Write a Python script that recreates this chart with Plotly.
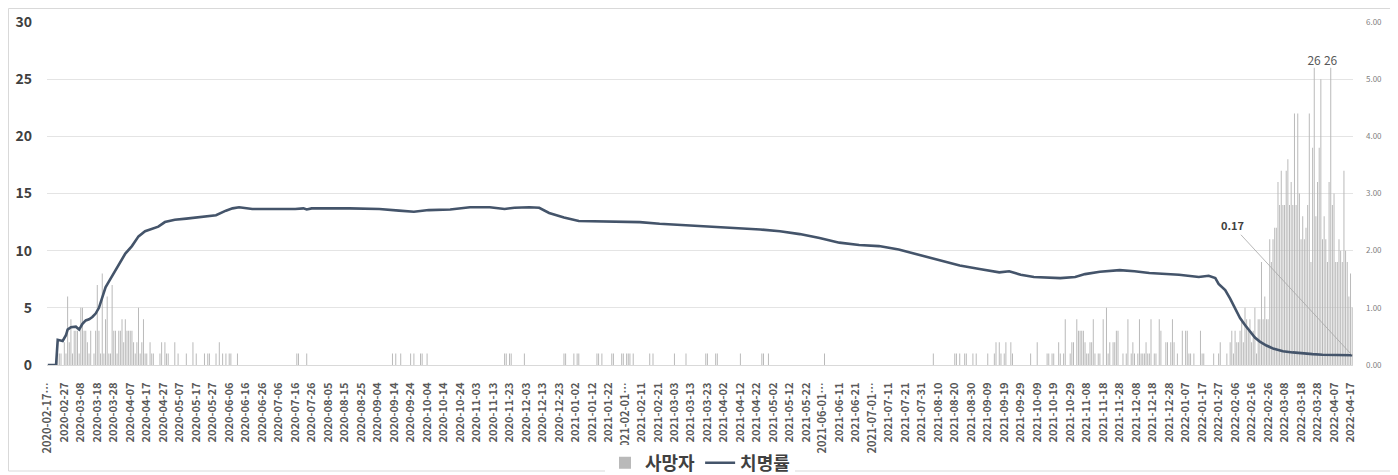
import pandas as pd
import plotly.graph_objects as go

# ---------------- data ----------------
start_date = "2020-02-17"
end_date = "2022-04-18"

# daily deaths (사망자), one row = 10 days, starting 2020-02-17
deaths = [
    0, 0, 0, 0, 0, 0, 1, 1, 1, 0,   # 2020-02-17
    2, 1, 6, 2, 4, 1, 3, 3, 3, 1,   # 2020-02-27
    5, 5, 3, 3, 2, 1, 3, 0, 1, 3,   # 2020-03-08
    7, 3, 1, 8, 1, 4, 6, 1, 1, 7,   # 2020-03-18
    3, 3, 1, 3, 3, 4, 2, 4, 3, 3,   # 2020-03-28
    3, 3, 2, 1, 2, 5, 1, 2, 4, 1,   # 2020-04-07
    1, 0, 2, 1, 1, 0, 0, 0, 1, 2,   # 2020-04-17
    0, 2, 1, 1, 0, 0, 0, 2, 0, 1,   # 2020-04-27
    0, 0, 0, 0, 1, 0, 0, 0, 2, 0,   # 2020-05-07
    1, 0, 0, 0, 0, 1, 0, 1, 1, 0,   # 2020-05-17
    0, 0, 1, 0, 2, 0, 1, 0, 1, 0,   # 2020-05-27
    1, 1, 0, 0, 0, 1, 0, 0, 0, 0,   # 2020-06-06
    0, 0, 0, 0, 0, 0, 0, 0, 0, 0,   # 2020-06-16
    0, 0, 0, 0, 0, 0, 0, 0, 0, 0,   # 2020-06-26
    0, 0, 0, 0, 0, 0, 0, 0, 0, 0,   # 2020-07-06
    0, 1, 1, 0, 0, 0, 0, 1, 0, 0,   # 2020-07-16
    0, 0, 0, 0, 0, 0, 0, 0, 0, 0,   # 2020-07-26
    0, 0, 0, 0, 0, 0, 0, 0, 0, 0,   # 2020-08-05
    0, 0, 0, 0, 0, 0, 0, 0, 0, 0,   # 2020-08-15
    0, 0, 0, 0, 0, 0, 0, 0, 0, 0,   # 2020-08-25
    0, 0, 0, 0, 0, 0, 0, 0, 0, 1,   # 2020-09-04
    0, 1, 0, 0, 1, 0, 0, 0, 0, 0,   # 2020-09-14
    1, 0, 1, 0, 0, 0, 1, 1, 0, 0,   # 2020-09-24
    1, 0, 0, 0, 0, 0, 0, 0, 0, 0,   # 2020-10-04
    0, 0, 0, 0, 0, 0, 0, 0, 0, 0,   # 2020-10-14
    0, 0, 0, 0, 0, 0, 0, 0, 0, 0,   # 2020-10-24
    0, 0, 0, 0, 0, 0, 0, 0, 0, 0,   # 2020-11-03
    0, 0, 0, 0, 0, 0, 0, 1, 1, 0,   # 2020-11-13
    1, 1, 0, 0, 0, 0, 0, 0, 0, 1,   # 2020-11-23
    0, 0, 0, 0, 0, 0, 0, 0, 0, 0,   # 2020-12-03
    0, 0, 0, 0, 0, 0, 0, 0, 0, 0,   # 2020-12-13
    0, 0, 0, 1, 1, 0, 0, 0, 0, 1,   # 2020-12-23
    0, 1, 1, 0, 0, 0, 0, 0, 0, 0,   # 2021-01-02
    0, 0, 0, 1, 1, 0, 1, 0, 0, 0,   # 2021-01-12
    0, 0, 1, 1, 0, 0, 0, 0, 1, 1,   # 2021-01-22
    0, 1, 1, 1, 0, 1, 0, 0, 0, 0,   # 2021-02-01
    0, 0, 0, 0, 0, 1, 0, 1, 0, 0,   # 2021-02-11
    0, 0, 0, 0, 0, 0, 0, 0, 0, 0,   # 2021-02-21
    1, 0, 0, 0, 0, 0, 0, 1, 0, 0,   # 2021-03-03
    0, 0, 0, 0, 0, 0, 0, 0, 0, 1,   # 2021-03-13
    1, 0, 0, 0, 0, 1, 1, 0, 0, 0,   # 2021-03-23
    0, 0, 0, 0, 0, 0, 0, 0, 0, 0,   # 2021-04-02
    1, 0, 0, 0, 0, 0, 0, 0, 0, 0,   # 2021-04-12
    0, 0, 0, 1, 1, 0, 0, 1, 0, 0,   # 2021-04-22
    0, 0, 0, 0, 0, 0, 0, 0, 0, 0,   # 2021-05-02
    0, 0, 0, 0, 0, 0, 0, 0, 0, 0,   # 2021-05-12
    0, 0, 0, 0, 0, 0, 0, 0, 0, 0,   # 2021-05-22
    0, 1, 0, 0, 0, 0, 0, 0, 0, 0,   # 2021-06-01
    0, 0, 0, 0, 0, 0, 0, 0, 0, 0,   # 2021-06-11
    0, 0, 0, 0, 0, 0, 0, 0, 0, 0,   # 2021-06-21
    0, 0, 0, 0, 0, 0, 0, 0, 0, 0,   # 2021-07-01
    0, 0, 0, 0, 0, 0, 0, 0, 0, 0,   # 2021-07-11
    0, 0, 0, 0, 0, 0, 0, 0, 0, 0,   # 2021-07-21
    0, 0, 0, 0, 0, 0, 0, 1, 0, 0,   # 2021-07-31
    0, 0, 0, 0, 0, 0, 0, 0, 0, 0,   # 2021-08-10
    1, 1, 0, 1, 0, 0, 1, 1, 0, 0,   # 2021-08-20
    0, 1, 0, 1, 0, 0, 0, 0, 0, 0,   # 2021-08-30
    1, 0, 0, 0, 1, 2, 0, 2, 1, 0,   # 2021-09-09
    1, 2, 0, 0, 2, 1, 0, 0, 0, 0,   # 2021-09-19
    0, 0, 0, 0, 0, 0, 1, 0, 0, 0,   # 2021-09-29
    2, 0, 0, 0, 0, 0, 1, 1, 0, 1,   # 2021-10-09
    1, 0, 0, 2, 1, 0, 1, 4, 0, 0,   # 2021-10-19
    1, 2, 2, 0, 4, 3, 3, 3, 3, 2,   # 2021-10-29
    1, 1, 2, 2, 4, 1, 0, 1, 1, 0,   # 2021-11-08
    4, 0, 5, 1, 2, 0, 2, 2, 3, 3,   # 2021-11-18
    0, 0, 1, 0, 1, 4, 0, 1, 2, 1,   # 2021-11-28
    0, 1, 4, 1, 1, 1, 2, 1, 1, 4,   # 2021-12-08
    0, 1, 1, 0, 4, 3, 0, 0, 2, 2,   # 2021-12-18
    0, 2, 4, 2, 0, 1, 0, 0, 3, 0,   # 2021-12-28
    3, 3, 1, 1, 0, 1, 0, 0, 0, 3,   # 2022-01-07
    1, 1, 0, 0, 0, 0, 0, 1, 0, 0,   # 2022-01-17
    1, 2, 0, 0, 0, 1, 0, 2, 3, 1,   # 2022-01-27
    3, 2, 2, 3, 4, 2, 5, 4, 3, 4,   # 2022-02-06
    2, 3, 5, 1, 4, 4, 9, 4, 6, 4,   # 2022-02-16
    4, 11, 9, 11, 12, 12, 16, 14, 17, 14,   # 2022-02-26
    14, 17, 18, 14, 16, 14, 22, 14, 22, 15,  # 2022-03-08
    11, 13, 11, 12, 14, 22, 9, 19, 26, 13,   # 2022-03-18
    16, 19, 25, 11, 13, 11, 9, 16, 26, 14,   # 2022-03-28
    15, 9, 9, 11, 10, 9, 17, 10, 9, 6,       # 2022-04-07
    8, 5,                                    # 2022-04-17
]

# case fatality rate (치명률, %) read at these day offsets from 2020-02-17
rate_day = [0, 5, 6, 9, 11, 12, 14, 17, 19, 21,
            23, 25, 27, 29, 31, 33, 35, 37, 39, 43,
            47, 51, 55, 59, 63, 67, 71, 77, 84, 90,
            96, 102, 108, 112, 116, 124, 150, 155, 157, 160,
            183, 201, 213, 222, 231, 244, 256, 268, 277, 283,
            292, 298, 304, 313, 322, 335, 347, 359, 371, 383,
            395, 407, 420, 432, 444, 456, 468, 480, 492, 504,
            516, 529, 541, 553, 565, 577, 583, 590, 598, 614,
            623, 629, 638, 650, 659, 668, 686, 692, 698, 704,
            708, 710, 714, 717, 720, 723, 726, 729, 732, 735,
            739, 743, 749, 755, 761, 767, 773, 781, 791]
rate_val = [0, 0, 0.44, 0.42, 0.52, 0.62, 0.66, 0.67, 0.62, 0.72,
            0.78, 0.80, 0.84, 0.90, 1.00, 1.18, 1.36, 1.46, 1.56, 1.74,
            1.95, 2.08, 2.25, 2.34, 2.38, 2.42, 2.50, 2.54, 2.56, 2.58,
            2.60, 2.62, 2.70, 2.74, 2.76, 2.73, 2.73, 2.74, 2.72, 2.74,
            2.74, 2.73, 2.70, 2.68, 2.71, 2.72, 2.76, 2.76, 2.73, 2.75,
            2.76, 2.75, 2.66, 2.58, 2.52, 2.51, 2.50, 2.50, 2.47, 2.45,
            2.44, 2.42, 2.40, 2.37, 2.34, 2.29, 2.22, 2.14, 2.10, 2.08,
            2.02, 1.92, 1.82, 1.74, 1.68, 1.62, 1.64, 1.58, 1.54, 1.52,
            1.54, 1.59, 1.63, 1.66, 1.64, 1.61, 1.58, 1.56, 1.54, 1.56,
            1.52, 1.42, 1.31, 1.16, 0.99, 0.82, 0.70, 0.58, 0.48, 0.41,
            0.34, 0.29, 0.24, 0.22, 0.20, 0.19, 0.18, 0.17, 0.17]

tick_every = 10
truncated_ticks = ["2020-02-17", "2021-02-01", "2021-06-01", "2021-07-01"]
bar_name = "사망자"
line_name = "치명률"
rate_label = "0.17"

# ---------------- figure ----------------
dates = list(pd.date_range(start_date, end_date).strftime("%Y-%m-%d"))
assert len(dates) == len(deaths), (len(dates), len(deaths))

tickvals = dates[::tick_every]
ticktext = [d + "…" if d in truncated_ticks else d for d in tickvals]

peak = max(deaths)
bar_text = [str(v) if v == peak else "" for v in deaths]

FONT = "Noto Sans CJK KR, Noto Sans, sans-serif"

# the page body adds an 8px offset; layout is expressed in page pixels
OFF = 8
PAGE_W, PAGE_H = 1398, 475
W, H = PAGE_W - OFF, PAGE_H - OFF
PL, PT, PR, PB = 47, 22, 1353, 365          # plot area in page pixels
L, T = PL - OFF, PT - OFF
R, B = W - (PR - OFF), H - (PB - OFF)
pw, ph = PR - PL, PB - PT


def px_x(p):
    return (p - PL) / pw


def px_y(p):
    return (PB - p) / ph


fig = go.Figure()
fig.add_trace(go.Bar(
    x=dates, y=deaths, name=bar_name,
    # a (barely) translucent colour keeps the thin bars at sub-pixel width
    marker=dict(color="rgba(184,184,184,0.99)", line=dict(width=0)),
    text=bar_text, textposition="outside", constraintext="none",
    cliponaxis=False, textfont=dict(size=12, color="#595959", family=FONT),
))
fig.add_trace(go.Scatter(
    x=[dates[i] for i in rate_day], y=rate_val, name=line_name,
    mode="lines", line=dict(color="#44546a", width=2.6),
    yaxis="y2",
))

fig.add_annotation(
    x=dates[len(dates) - 1], y=rate_val[-1], xref="x", yref="y2",
    text="<b>" + rate_label + "</b>", showarrow=True, arrowhead=0,
    arrowwidth=0.8, arrowcolor="#a6a6a6", ax=-120, ay=-130,
    font=dict(size=11, color="#404040", family=FONT),
)

fig.add_shape(type="rect", xref="paper", yref="paper",
              x0=px_x(OFF + 0.5), x1=px_x(1393), y0=px_y(471), y1=px_y(OFF + 0.5),
              line=dict(color="#d9d9d9", width=1), layer="below")

fig.update_layout(
    width=W, height=H,
    margin=dict(l=L, r=R, t=T, b=B, autoexpand=False),
    plot_bgcolor="white", paper_bgcolor="white",
    bargap=0.4,
    font=dict(family=FONT),
    showlegend=True,
    legend=dict(orientation="h", x=0.5, xanchor="center",
                y=px_y(463), yanchor="middle",
                font=dict(size=18, color="#404040", family=FONT, weight="bold"),
                itemwidth=30, traceorder="normal"),
    xaxis=dict(type="category", tickmode="array", tickvals=tickvals,
               ticktext=ticktext, tickangle=-90, automargin=False,
               tickfont=dict(size=11, color="#595959", family=FONT, weight="bold"),
               ticklabelstandoff=12,
               showgrid=False, showline=True, linecolor="#d9d9d9",
               ticks="", range=[-0.5, len(dates) - 0.5]),
    yaxis=dict(range=[0, 30], dtick=5, gridcolor="#e4e4e4", gridwidth=1,
               zeroline=False, showline=False, automargin=False,
               tickfont=dict(size=14, color="#404040", family=FONT, weight="bold"),
               ticklabelstandoff=14),
    yaxis2=dict(range=[0, 6], dtick=1, tickformat=".2f", overlaying="y",
                side="right", showgrid=False, zeroline=False, automargin=False,
                tickfont=dict(size=8, color="#7f7f7f", family=FONT),
                ticklabelstandoff=12),
)

fig.write_html("out.html")
